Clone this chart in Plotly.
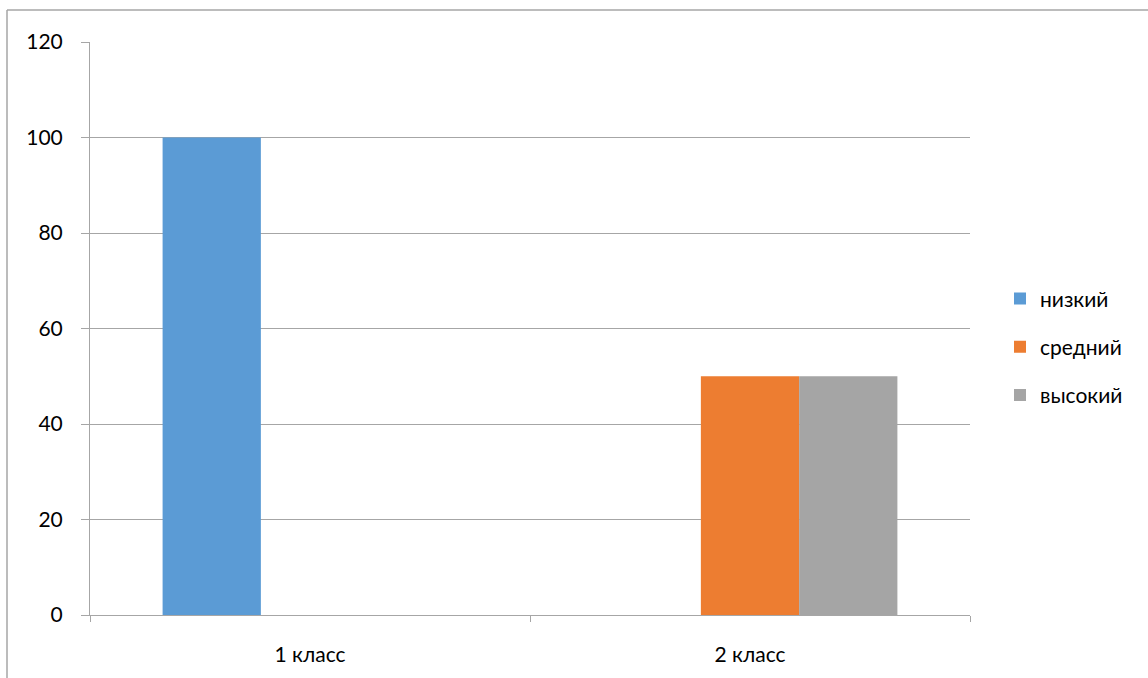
import plotly.graph_objects as go

categories = ["1 класс", "2 класс"]
series_names = ["низкий", "средний", "высокий"]
low = [100, 0]
mid = [0, 50]
high = [0, 50]
colors = ["#5B9BD5", "#ED7D31", "#A5A5A5"]
y_ticks = [0, 20, 40, 60, 80, 100, 120]

fig = go.Figure()
for name, vals, col in zip(series_names, [low, mid, high], colors):
    fig.add_trace(go.Bar(name=name, x=categories, y=vals, marker_color=col,
                         marker_line_width=0, legendgroup=name))

W, H = 1148, 678
l, r, t, b = 90, 178, 42, 63
pw, ph = W - l - r, H - t - b

fig.update_layout(
    width=W, height=H,
    margin=dict(l=l, r=r, t=t, b=b),
    paper_bgcolor="white", plot_bgcolor="white",
    barmode="group", bargap=0.33, bargroupgap=0,
    font=dict(family="Lato", size=21, color="black"),
    legend=dict(x=(1000 - l) / pw, xanchor="left", y=0.468, yanchor="middle",
                font=dict(size=21), tracegroupgap=18, itemwidth=30),
    xaxis=dict(type="category", showline=True, linecolor="#a6a6a6", linewidth=1,
               ticks="outside", tickson="boundaries", ticklen=6, tickcolor="#a6a6a6",
               showgrid=False, ticklabelstandoff=21),
    yaxis=dict(range=[0, 120], tickvals=y_ticks, showline=True, linecolor="#a6a6a6",
               linewidth=1, ticks="outside", ticklen=8, tickcolor="#a6a6a6",
               gridcolor="#a6a6a6", gridwidth=1, zeroline=False, ticklabelstandoff=14),
    shapes=[
        dict(type="line", xref="paper", yref="paper",
             x0=(7 - l) / pw, x1=(W + 10 - l) / pw,
             y0=(H - b - 10) / ph, y1=(H - b - 10) / ph,
             line=dict(color="#a6a6a6", width=1.5)),
        dict(type="line", xref="paper", yref="paper",
             x0=(7 - l) / pw, x1=(7 - l) / pw,
             y0=(H - b - 10) / ph, y1=(H - b - H - 10) / ph,
             line=dict(color="#a6a6a6", width=1.5)),
    ],
)
fig.write_html("out.html", config={"displayModeBar": False},
               post_script="document.body.style.margin='0';document.body.style.overflow='hidden';")
